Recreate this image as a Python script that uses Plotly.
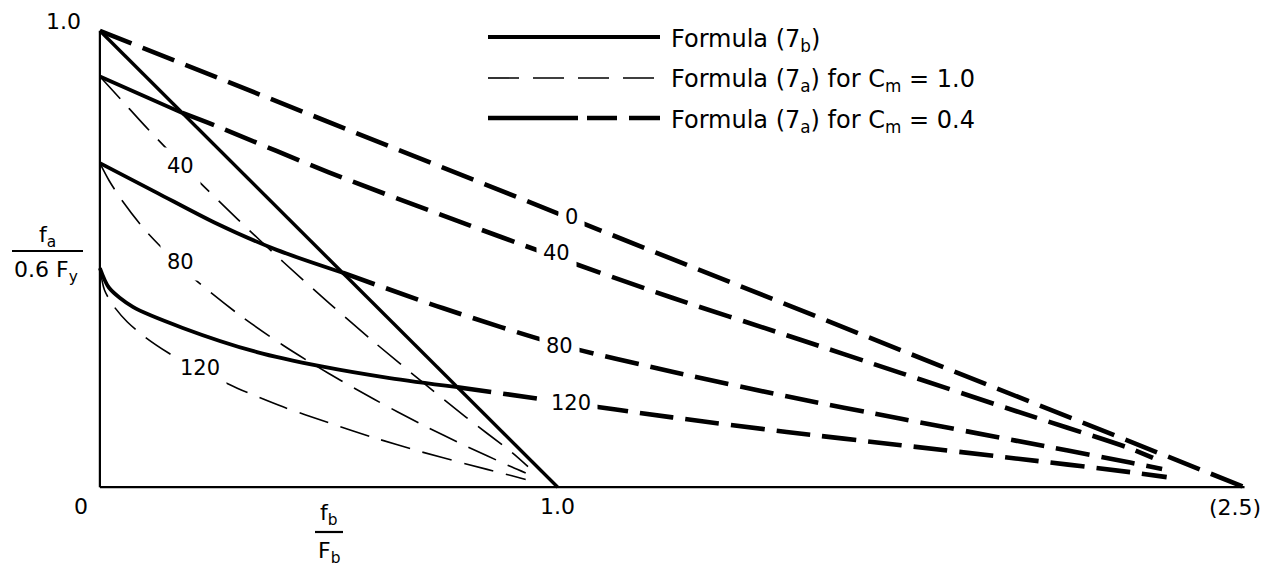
import plotly.graph_objects as go

# ---------------------------------------------------------------
# Interaction curves: x = fb/Fb, y = fa/(0.6 Fy)
# ---------------------------------------------------------------

# Formula (7b): straight line
fb_7b = [0.0, 1.0]
fa_7b = [1.0, 0.0]

# Formula (7a) for Cm = 1.0, kl/r = 40, 80, 120
fb_cm10_40 = [0.0, 0.05, 0.10, 0.20, 0.30, 0.40, 0.50, 0.60, 0.70, 0.80, 0.90, 0.935]
fa_cm10_40 = [0.90, 0.845, 0.790, 0.686, 0.588, 0.494, 0.404, 0.317, 0.234, 0.153, 0.076, 0.045]

fb_cm10_80 = [0.0, 0.02, 0.05, 0.10, 0.20, 0.30, 0.40, 0.50, 0.60, 0.70, 0.80, 0.90, 0.93]
fa_cm10_80 = [0.71, 0.672, 0.626, 0.562, 0.462, 0.381, 0.311, 0.249, 0.192, 0.139, 0.090, 0.044, 0.031]

fb_cm10_120 = [0.0, 0.01, 0.03, 0.06, 0.10, 0.15, 0.20, 0.30, 0.40, 0.50, 0.60, 0.70, 0.80, 0.90, 0.93]
fa_cm10_120 = [0.48, 0.432, 0.397, 0.362, 0.328, 0.294, 0.265, 0.217, 0.176, 0.141, 0.108, 0.078, 0.051, 0.025, 0.017]

# Formula (7a) for Cm = 0.4, kl/r = 0, 40, 80, 120
# (solid up to the crossing with 7b, dashed beyond)
fb_cm04_0 = [0.0, 2.5]
fa_cm04_0 = [1.0, 0.0]
cross_cm04_0 = 0

fb_cm04_40 = [0.0, 0.09, 0.18, 0.25, 0.50, 0.75, 1.00, 1.25, 1.50, 1.75, 2.00, 2.25, 2.30]
fa_cm04_40 = [0.90, 0.860, 0.820, 0.793, 0.690, 0.595, 0.503, 0.415, 0.333, 0.250, 0.167, 0.085, 0.064]
cross_cm04_40 = 2

fb_cm04_80 = [0.0, 0.125, 0.25, 0.386, 0.53, 0.75, 1.00, 1.25, 1.50, 1.75, 2.00, 2.25, 2.32]
fa_cm04_80 = [0.71, 0.645, 0.580, 0.520, 0.470, 0.392, 0.313, 0.253, 0.199, 0.150, 0.102, 0.054, 0.040]
cross_cm04_80 = 4

fb_cm04_120 = [0.0, 0.02, 0.072, 0.181, 0.343, 0.487, 0.633, 0.781, 1.00, 1.25, 1.50, 1.75, 2.00, 2.25, 2.33]
fa_cm04_120 = [0.48, 0.437, 0.395, 0.349, 0.296, 0.264, 0.239, 0.219, 0.188, 0.153, 0.121, 0.092, 0.063, 0.033, 0.022]
cross_cm04_120 = 7

# curve labels (kl/r) and where they sit
labels_cm10 = ["40", "80", "120"]
labels_cm10_pos = [(0.177, 0.704), (0.175, 0.493), (0.218, 0.261)]
labels_cm04 = ["0", "40", "80", "120"]
labels_cm04_pos = [(1.031, 0.592), (0.998, 0.513), (1.004, 0.309), (1.030, 0.184)]

FONT = "DejaVu Sans"
INK = "black"
THIN_W, THICK_W, SOLID_W = 1.6, 4.6, 3.4
THIN_DASH = "30px,13px"
THICK_DASH = "34px,12px"

fig = go.Figure()


def add_line(x, y, width, dash="solid"):
    fig.add_trace(go.Scatter(
        x=x, y=y, mode="lines", hoverinfo="skip", showlegend=False,
        line=dict(color=INK, width=width, dash=dash, shape="spline", smoothing=0.8),
    ))


# thin dashed curves, Cm = 1.0
for xs, ys in [(fb_cm10_40, fa_cm10_40), (fb_cm10_80, fa_cm10_80), (fb_cm10_120, fa_cm10_120)]:
    add_line(xs, ys, THIN_W, THIN_DASH)

# heavy curves, Cm = 0.4
for xs, ys, k in [(fb_cm04_0, fa_cm04_0, cross_cm04_0),
                  (fb_cm04_40, fa_cm04_40, cross_cm04_40),
                  (fb_cm04_80, fa_cm04_80, cross_cm04_80),
                  (fb_cm04_120, fa_cm04_120, cross_cm04_120)]:
    if k > 0:
        add_line(xs[:k + 1], ys[:k + 1], THICK_W - 0.8)
    add_line(xs[k:], ys[k:], THICK_W, THICK_DASH)

# formula 7b
add_line(fb_7b, fa_7b, SOLID_W)

# axes
add_line([0.0, 2.5], [0.0, 0.0], 2.2)
add_line([0.0, 0.0], [0.0, 1.0], 2.2)

# plot-area geometry
L, R, T, B = 77, 8, 8, 61
W = 1280 - L - R
H = 571 - T - B


def xp(p):
    return (p - L) / W


def yp(p):
    return (T + H - p) / H


def text(txt, x, y, size, xanchor="center", **kw):
    return dict(x=x, y=y, text=txt, showarrow=False, xanchor=xanchor, yanchor="middle",
                font=dict(family=FONT, size=size, color=INK), **kw)


ann = []
for txt, (x, y) in zip(labels_cm10 + labels_cm04, labels_cm10_pos + labels_cm04_pos):
    ann.append(text(txt, x, y, 21, xref="x", yref="y", bgcolor="white", borderpad=6))

# axis numbers
for txt, x, y in [("1.0", 63, 22), ("0", 81, 506), ("1.0", 557, 506), ("(2.5)", 1235, 507)]:
    ann.append(text(txt, xp(x), yp(y), 22, xref="paper", yref="paper"))

# axis titles as stacked fractions
frac = [("f<sub>a</sub>", 47, 236), ("0.6 F<sub>y</sub>", 46, 271),
        ("f<sub>b</sub>", 329, 514), ("F<sub>b</sub>", 329, 552)]
for txt, x, y in frac:
    ann.append(text(txt, xp(x), yp(y), 22, xref="paper", yref="paper"))

shapes = [
    dict(type="line", xref="paper", yref="paper", x0=xp(12), x1=xp(83), y0=yp(251), y1=yp(251),
         line=dict(color=INK, width=2.2)),
    dict(type="line", xref="paper", yref="paper", x0=xp(315), x1=xp(343), y0=yp(532), y1=yp(532),
         line=dict(color=INK, width=2.2)),
]

# key
key_rows = [
    ("Formula (7<sub>b</sub>)", 37, SOLID_W + 0.6, "solid"),
    ("Formula (7<sub>a</sub>) for C<sub>m</sub> = 1.0", 78, THIN_W, "31px,14px"),
    ("Formula (7<sub>a</sub>) for C<sub>m</sub> = 0.4", 118, THICK_W, "90px,9px,30px,12px,31px"),
]
for txt, y, w, dash in key_rows:
    shapes.append(dict(type="line", xref="paper", yref="paper", x0=xp(488), x1=xp(660),
                       y0=yp(y), y1=yp(y), line=dict(color=INK, width=w, dash=dash)))
    ann.append(text(txt, xp(669), yp(y + 3), 24, xanchor="left", xref="paper", yref="paper"))

fig.update_layout(
    width=1280, height=571,
    margin=dict(l=L, r=R, t=T, b=B),
    paper_bgcolor="white", plot_bgcolor="white",
    xaxis=dict(range=[-0.05, 2.56], visible=False, fixedrange=True),
    yaxis=dict(range=[-0.05, 1.05], visible=False, fixedrange=True),
    annotations=ann, shapes=shapes, showlegend=False,
)

fig.write_html("out.html")
